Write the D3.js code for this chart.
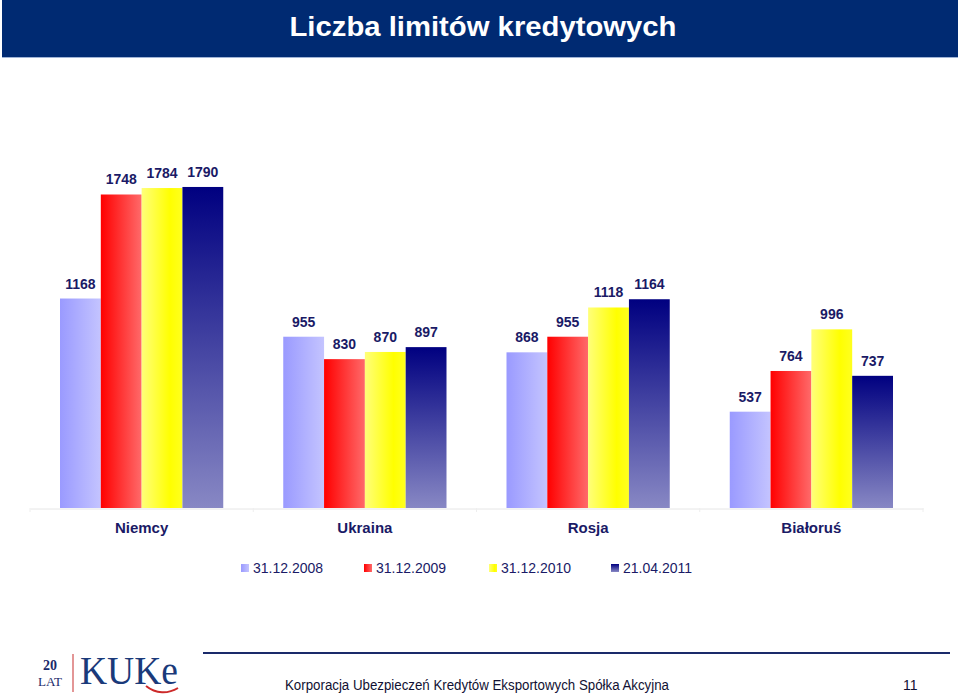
<!DOCTYPE html>
<html>
<head>
<meta charset="utf-8">
<script src="https://cdn.jsdelivr.net/npm/d3@7"></script>
<style>
  html, body { margin: 0; padding: 0; background: #ffffff; }
  svg { display: block; }
</style>
</head>
<body>
<svg id="chart" width="960" height="696"></svg>
<script>
const title = "Liczba limitów kredytowych";
const categories = ["Niemcy", "Ukraina", "Rosja", "Białoruś"];
const seriesNames = ["31.12.2008", "31.12.2009", "31.12.2010", "21.04.2011"];
const s2008 = [1168, 955, 868, 537];
const s2009 = [1748, 830, 955, 764];
const s2010 = [1784, 870, 1118, 996];
const s2011 = [1790, 897, 1164, 737];
const seriesValues = [s2008, s2009, s2010, s2011];
const footerText = "Korporacja Ubezpieczeń Kredytów Eksportowych Spółka Akcyjna";
const pageNumber = "11";

const svg = d3.select("#chart");
const W = 960, H = 696;
const navy = "#1a1a66";

// gradients
const defs = svg.append("defs");
const gradSpecs = [
  {id: "g0", x2: "100%", y2: "0%", stops: [["0%", "#9a9aff"], ["100%", "#c4c4ff"]]},
  {id: "g1", x2: "100%", y2: "0%", stops: [["0%", "#ff0000"], ["100%", "#ff6a6a"]]},
  {id: "g2", x2: "100%", y2: "0%", stops: [["0%", "#ffff7a"], ["70%", "#ffff00"], ["100%", "#ffff20"]]},
  {id: "g3", x2: "0%", y2: "100%", stops: [["0%", "#000080"], ["100%", "#8888c4"]]}
];
gradSpecs.forEach(g => {
  const lg = defs.append("linearGradient").attr("id", g.id)
    .attr("x1", "0%").attr("y1", "0%").attr("x2", g.x2).attr("y2", g.y2);
  g.stops.forEach(s => lg.append("stop").attr("offset", s[0]).attr("stop-color", s[1]));
});

// Title bar
svg.append("rect").attr("x", 2).attr("y", 0).attr("width", W - 4).attr("height", 57).attr("fill", "#002a72");
svg.append("line").attr("x1", 2).attr("x2", W - 2).attr("y1", 57.5).attr("y2", 57.5).attr("stroke", "#9fb3d6").attr("stroke-width", 1);
svg.append("text").attr("x", 483).attr("y", 36).attr("text-anchor", "middle")
  .attr("fill", "#ffffff").attr("font-family", "'Liberation Sans Narrow', 'Liberation Sans', Arial, sans-serif")
  .attr("font-weight", "bold").attr("font-size", 28)
  .attr("textLength", 387).attr("lengthAdjust", "spacingAndGlyphs")
  .text(title);

// Scales
const x0 = d3.scaleBand().domain(categories).range([30, 923]).paddingInner(0).paddingOuter(0);
const x1 = d3.scaleBand().domain(seriesNames).range([30, x0.bandwidth() - 30]).padding(0);
const y = d3.scaleLinear().domain([0, 2000]).range([508, 149.3]);

// axis line
const axis = d3.axisBottom(x0).tickSize(0).tickFormat("");
const axG = svg.append("g").attr("transform", "translate(0,508.5)").call(axis);
axG.select(".domain").attr("stroke", "#e6e6e6").attr("stroke-width", 1);
const bounds = d3.range(categories.length + 1).map(i => 30 + i * x0.step());
svg.append("g").selectAll("line").data(bounds).join("line")
  .attr("x1", d => d).attr("x2", d => d).attr("y1", 508).attr("y2", 512)
  .attr("stroke", "#eeeeee");

// bars
const groups = svg.append("g").selectAll("g").data(categories).join("g")
  .attr("transform", d => `translate(${x0(d)},0)`);

groups.each(function(cat, ci) {
  const g = d3.select(this);
  seriesNames.forEach((s, si) => {
    const v = seriesValues[si][ci];
    g.append("rect")
      .attr("x", x1(s)).attr("y", y(v))
      .attr("width", x1.bandwidth()).attr("height", y(0) - y(v))
      .attr("fill", `url(#g${si})`);
    g.append("text")
      .attr("x", x1(s) + x1.bandwidth() / 2).attr("y", y(v) - 10)
      .attr("text-anchor", "middle")
      .attr("font-family", "'Liberation Sans', Arial, sans-serif")
      .attr("font-size", 14).attr("font-weight", "bold").attr("fill", navy)
      .text(v);
  });
});

// category labels
svg.append("g").selectAll("text").data(categories).join("text")
  .attr("x", d => x0(d) + x0.bandwidth() / 2).attr("y", 533)
  .attr("text-anchor", "middle")
  .attr("font-family", "'Liberation Sans', Arial, sans-serif")
  .attr("font-size", 15).attr("font-weight", "bold").attr("fill", navy)
  .text(d => d);

// legend
const legendX = [241, 364, 489, 611];
const leg = svg.append("g").selectAll("g").data(seriesNames).join("g")
  .attr("transform", (d, i) => `translate(${legendX[i]},564)`);
leg.append("rect").attr("width", 8).attr("height", 8).attr("fill", (d, i) => `url(#g${i})`);
leg.append("text").attr("x", 12).attr("y", 9)
  .attr("font-family", "'Liberation Sans', Arial, sans-serif")
  .attr("font-size", 14).attr("fill", navy)
  .text(d => d);

// footer
svg.append("line").attr("x1", 203).attr("x2", 950).attr("y1", 653).attr("y2", 653)
  .attr("stroke", "#1a2a6a").attr("stroke-width", 2);
svg.append("text").attr("x", 285).attr("y", 690)
  .attr("font-family", "'Liberation Sans Narrow', 'Liberation Sans', Arial, sans-serif")
  .attr("font-size", 14).attr("fill", "#111133")
  .attr("textLength", 384).attr("lengthAdjust", "spacingAndGlyphs")
  .text(footerText);
svg.append("text").attr("x", 903).attr("y", 690)
  .attr("font-family", "'Liberation Sans Narrow', 'Liberation Sans', Arial, sans-serif")
  .attr("font-size", 14).attr("fill", "#111133")
  .text(pageNumber);

// logo
const logo = svg.append("g");
logo.append("text").attr("x", 50).attr("y", 670).attr("text-anchor", "middle")
  .attr("font-family", "'Liberation Serif', 'DejaVu Serif', serif").attr("font-size", 14)
  .attr("fill", "#1a2a6a").attr("font-weight", "bold").text("20");
logo.append("text").attr("x", 38).attr("y", 686)
  .attr("font-family", "'Liberation Serif', 'DejaVu Serif', serif").attr("font-size", 13)
  .attr("fill", "#1a2a6a").attr("textLength", 24).attr("lengthAdjust", "spacingAndGlyphs").text("LAT");
logo.append("line").attr("x1", 73).attr("x2", 73).attr("y1", 654).attr("y2", 692)
  .attr("stroke", "#d05050").attr("stroke-width", 1.2);
logo.append("text").attr("x", 80).attr("y", 684)
  .attr("font-family", "'Liberation Serif', 'DejaVu Serif', serif").attr("font-size", 40)
  .attr("fill", "#1a3a7a").attr("textLength", 98).attr("lengthAdjust", "spacingAndGlyphs").text("KUKe");
logo.append("path").attr("d", "M146,686 C156,694 168,694 178,688")
  .attr("fill", "none").attr("stroke", "#cc2a2a").attr("stroke-width", 2);
</script>
</body>
</html>
